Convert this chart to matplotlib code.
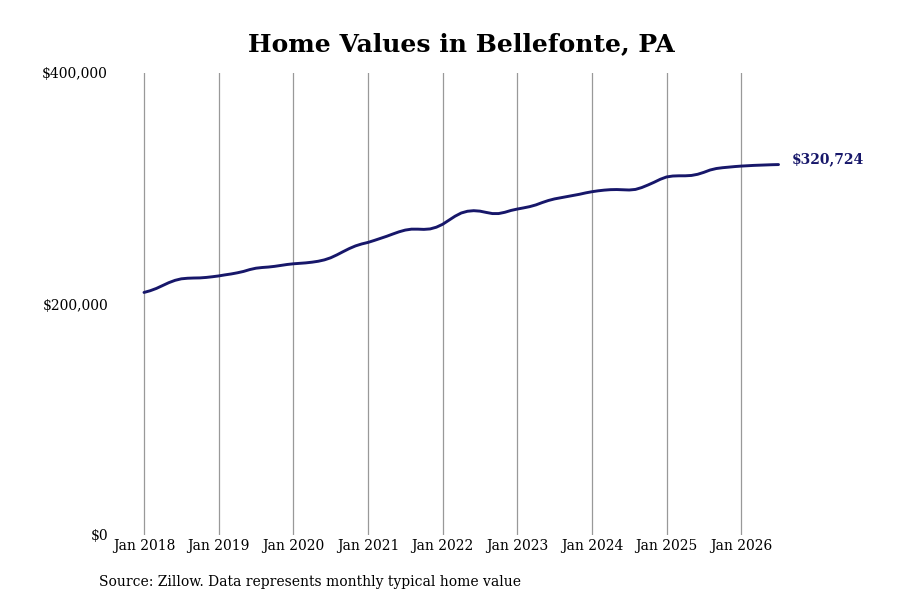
import matplotlib
matplotlib.use("Agg")
import matplotlib.pyplot as plt
import numpy as np

# Monthly typical home value, Jan 2018 .. Jul 2026 (USD)
start_year = 2018
values_k = [
    # 2018
    210.0, 211.5, 213.5, 216.0, 218.5, 220.5, 221.8, 222.3, 222.5, 222.6, 223.0, 223.6,
    # 2019
    224.3, 225.2, 226.0, 227.0, 228.2, 229.8, 231.0, 231.6, 232.0, 232.6, 233.4, 234.2,
    # 2020
    234.8, 235.2, 235.6, 236.2, 237.0, 238.2, 240.0, 242.5, 245.3, 248.0, 250.3, 252.0,
    # 2021
    253.3, 255.0, 256.8, 258.6, 260.6, 262.5, 264.0, 264.8, 264.8, 264.6, 265.0, 266.5,
    # 2022
    269.0, 272.5, 276.0, 278.8, 280.3, 280.8, 280.4, 279.3, 278.3, 278.3, 279.4, 281.0,
    # 2023
    282.2, 283.2, 284.3, 285.8, 287.8, 289.6, 291.0, 292.0, 293.0, 294.0, 295.0, 296.2,
    # 2024
    297.2, 298.0, 298.6, 299.0, 299.1, 298.9, 298.7, 299.2, 300.8, 303.0, 305.4, 308.0,
    # 2025
    310.0, 310.8, 311.0, 311.0, 311.3, 312.3, 314.0, 316.0, 317.3, 318.0, 318.5, 319.0,
    # 2026
    319.4, 319.7, 320.0, 320.2, 320.4, 320.6, 320.724,
]
tick_years = [2018, 2019, 2020, 2021, 2022, 2023, 2024, 2025, 2026]
tick_labels = ["Jan %d" % y for y in tick_years]
y_ticks = [0, 200000, 400000]
y_labels = ["$0", "$200,000", "$400,000"]
title = "Home Values in Bellefonte, PA"
source = "Source: Zillow. Data represents monthly typical home value"

values = np.array(values_k) * 1000
x = start_year + np.arange(len(values)) / 12.0

line_color = "#17176a"

fig = plt.figure(figsize=(9, 6), dpi=100)
# pixel geometry: Jan 2018 at x=144, 74.65 px per year; y 0 at 535, 400k at 73
left_px, right_px = 115, 860
ax = fig.add_axes([left_px / 900, (600 - 535) / 600, (right_px - left_px) / 900, (535 - 73) / 600])
px_per_year = 74.65
ax.set_xlim(2018 - (144 - left_px) / px_per_year, 2018 + (right_px - 144) / px_per_year)
ax.set_ylim(0, 400000)

ax.plot(x, values, color=line_color, lw=2.1, solid_capstyle="round", zorder=3)

for s in ax.spines.values():
    s.set_visible(False)

ax.set_xticks(tick_years)
ax.set_xticklabels(tick_labels, fontfamily="DejaVu Serif", fontsize=10)
ax.set_yticks(y_ticks)
ax.set_yticklabels(y_labels, fontfamily="DejaVu Serif", fontsize=10)
ax.tick_params(axis="both", length=0)
ax.tick_params(axis="x", pad=3)
ax.tick_params(axis="y", pad=5)
ax.xaxis.grid(True, color="#999999", lw=0.9)
ax.yaxis.grid(False)

ax.annotate("${:,.0f}".format(values[-1]), xy=(x[-1], values[-1]), xytext=(9.5, 3.5),
            textcoords="offset points", ha="left", va="center",
            fontfamily="DejaVu Serif", fontweight="bold", fontsize=10,
            color=line_color, annotation_clip=False)

fig.text(461 / 900, 1 - 44 / 600, title, ha="center", va="center",
         fontfamily="DejaVu Serif", fontweight="bold", fontsize=18)
fig.text(99 / 900, 1 - 582 / 600, source, ha="left", va="center",
         fontfamily="DejaVu Serif", fontsize=10)

fig.savefig("out.png", dpi=100, facecolor="white")
